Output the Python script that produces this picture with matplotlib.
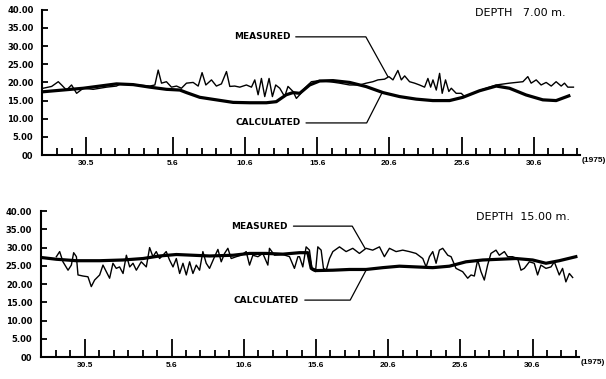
import matplotlib
matplotlib.use("Agg")
import matplotlib.pyplot as plt
import numpy as np

# days counted from 1 June 1975 (30.5 = -1, 5.6 = 5, ...)
tick_days = [-1, 5, 10, 15, 20, 25, 30]
tick_labels = ["30.5", "5.6", "10.6", "15.6", "20.6", "25.6", "30.6"]
ytick_vals = [0, 5, 10, 15, 20, 25, 30, 35, 40]
ytick_labels = ["00", "5.00", "10.00", "15.00", "20.00", "25.00", "30.00", "35.00", "40.00"]

# depth 7.00 m
meas7_day = [-3.97, -3.39, -2.93, -2.70, -2.36, -2.01, -1.66, -1.20, -0.51, 0.41, 1.10, 1.33,
             2.26, 3.41, 3.76, 3.99, 4.22, 4.56, 4.91, 5.26, 5.60, 5.95, 6.41, 6.76, 7.03,
             7.29, 7.68, 8.02, 8.37, 8.72, 8.95, 9.29, 9.64, 10.10, 10.45, 10.68, 10.91,
             11.14, 11.37, 11.67, 11.90, 12.13, 12.41, 12.75, 12.98, 13.33, 13.56,
             13.79, 14.14, 14.60, 15.17, 15.87, 16.56, 17.25, 17.94, 18.40, 18.86, 19.21,
             19.67, 19.97, 20.25, 20.59, 20.83, 21.06, 21.40, 21.75, 22.09, 22.44, 22.67,
             22.86, 23.02, 23.25, 23.48, 23.66, 23.89, 24.12, 24.29, 24.63, 24.98, 25.21,
             25.79, 26.48, 27.40, 28.32, 29.25, 29.59, 29.82, 30.17, 30.51, 30.86, 31.21,
             31.55, 31.90, 32.13, 32.36, 32.75]
meas7_val = [18.4, 18.9, 20.2, 19.3, 17.9, 19.3, 17.0, 18.4, 18.1, 18.7, 19.0, 19.5,
             19.4, 19.0, 19.3, 23.4, 19.8, 20.2, 18.7, 19.0, 18.4, 19.8, 20.0, 19.0, 22.7,
             19.3, 20.7, 19.0, 19.6, 23.0, 18.9, 19.0, 18.7, 19.3, 18.7, 20.7, 16.6,
             21.1, 16.1, 21.1, 16.1, 19.3, 18.4, 16.1, 18.9, 17.5, 15.6,
             16.6, 18.4, 20.2, 20.5, 20.2, 19.8, 19.3, 19.3, 19.8, 20.2, 20.7,
             20.9, 21.6, 20.7, 23.3, 20.7, 21.8, 20.2, 19.8, 19.3, 18.7, 21.1,
             18.7, 20.7, 17.9, 22.5, 17.0, 20.7, 17.5, 18.4, 17.0, 17.0, 16.1,
             17.0, 18.1, 19.3, 19.8, 20.2, 21.6, 19.8, 20.7, 19.3, 20.0, 19.0,
             20.2, 19.0, 19.8, 18.7, 18.7]
calc7_day = [-4.07, -1.20, 1.10, 2.26, 3.41, 4.56, 5.49, 5.95, 6.87, 8.02, 9.18, 10.33,
             11.48, 12.17, 12.86, 13.33, 13.79, 14.48, 15.17, 16.10, 17.25, 18.40, 19.56,
             20.71, 21.86, 23.01, 24.17, 25.09, 26.24, 27.40, 28.32, 29.47, 30.63, 31.55, 32.43]
calc7_val = [17.4, 18.4, 19.6, 19.4, 18.7, 18.1, 17.9, 17.2, 15.9, 15.2, 14.5, 14.4,
             14.4, 14.7, 16.6, 17.2, 17.0, 19.3, 20.4, 20.5, 20.0, 18.85, 17.2,
             16.1, 15.4, 15.0, 15.0, 15.9, 17.7, 19.0, 18.4, 16.55, 15.2, 15.0, 16.3]

# depth 15.00 m
meas15_day = [-2.98, -2.75, -2.52, -2.17, -1.94, -1.78, -1.59, -1.48, -1.13, -0.79, -0.56,
              -0.33, 0.02, 0.25, 0.48, 0.71, 0.94, 1.17, 1.40, 1.64, 1.87, 2.10, 2.33, 2.56,
              2.90, 3.25, 3.48, 3.71, 3.94, 4.17, 4.40, 4.63, 4.86, 5.10, 5.33, 5.56, 5.79,
              6.02, 6.25, 6.48, 6.71, 6.94, 7.17, 7.40, 7.63, 7.98, 8.21, 8.44, 8.67, 8.90,
              9.13, 9.48, 9.82, 10.17, 10.40, 10.63, 10.98, 11.32, 11.67, 11.78, 12.13,
              12.71, 13.17, 13.51, 13.75,
              13.86, 14.09, 14.32, 14.55, 14.74, 14.97, 15.13, 15.36, 15.52, 15.71, 15.94,
              16.17, 16.63, 17.09, 17.55, 18.01, 18.47, 18.93, 19.40, 19.74, 20.09, 20.55,
              21.01, 21.47, 21.93, 22.40, 22.63, 22.86, 23.09, 23.32, 23.55, 23.78, 24.13,
              24.36, 24.70, 25.16, 25.51, 25.74, 25.97, 26.20, 26.43, 26.66, 26.89, 27.12,
              27.47, 27.70, 28.05, 28.28, 28.62, 28.97, 29.20, 29.43, 29.78, 30.12, 30.35,
              30.58, 30.93, 31.28, 31.51, 31.85, 32.08, 32.31, 32.55, 32.78]
meas15_val = [27.5, 28.9, 26.1, 23.8, 25.2, 28.6, 27.5, 22.5, 22.2, 22.0, 19.3,
              21.1, 22.5, 25.2, 23.4, 21.6, 25.7, 24.3, 24.7, 22.9, 27.9, 24.7, 25.7, 23.8,
              26.1, 24.7, 30.0, 27.5, 28.9, 27.0, 27.9, 28.9, 26.6, 24.7, 27.0, 22.9, 25.7,
              22.5, 26.1, 22.9, 25.2, 23.8, 28.9, 25.7, 24.3, 27.5, 29.5, 26.1, 28.4, 29.8,
              27.0, 27.5, 27.9, 28.9, 25.2, 27.9, 27.5, 28.4, 25.2, 29.8, 27.9,
              28.1, 27.5, 24.3, 27.5,
              27.5, 24.7, 30.2, 29.3, 23.8, 23.4, 30.2, 29.3, 24.3, 23.8, 27.0,
              28.9, 30.2, 28.9, 29.8, 28.4, 29.8, 29.3, 30.2, 27.5, 29.8, 28.9,
              29.3, 28.9, 28.4, 27.0, 24.7, 27.5, 28.9, 25.7, 29.3, 29.8, 27.9,
              27.5, 24.3, 23.4, 21.6, 22.5, 22.2, 26.6, 23.4, 21.1, 25.2, 28.4,
              29.3, 27.9, 28.9, 27.5, 27.5, 27.0, 23.8, 24.3, 26.1, 25.7, 22.5,
              25.2, 24.3, 24.7, 26.1, 22.5, 24.3, 20.6, 22.9, 21.8]
calc15_day = [-4.07, -2.98, -1.59, 0.02, 1.64, 3.02, 4.17, 5.33, 6.48, 7.63, 9.25, 10.40,
              11.55, 12.71, 13.86, 14.44, 14.67, 15.01, 16.17, 17.32, 18.47, 19.63, 20.78,
              21.93, 23.09, 24.24, 25.39, 26.55, 27.70, 28.85, 30.01, 30.93, 31.85, 33.0]
calc15_val = [27.3, 26.8, 26.4, 26.4, 26.6, 27.0, 27.7, 28.1, 27.9, 27.7, 27.9, 28.4,
              28.4, 28.2, 28.6, 28.6, 24.3, 23.7, 23.8, 24.0, 24.0, 24.5, 24.9,
              24.7, 24.5, 24.9, 26.1, 26.6, 26.8, 27.0, 26.6, 25.7, 26.4, 27.5]

label_font = dict(family="DejaVu Sans", weight="bold", size=6.5)

fig = plt.figure(figsize=(6.06, 3.79), dpi=100)
ax1 = fig.add_axes([0.069, 0.591, 0.888, 0.383])
ax2 = fig.add_axes([0.067, 0.058, 0.888, 0.385])


def style_axis(ax):
    ax.set_xlim(-4.07, 33.2)
    ax.set_ylim(0, 40)
    for s in ["top", "right"]:
        ax.spines[s].set_visible(False)
    for s in ["left", "bottom"]:
        ax.spines[s].set_linewidth(1.5)
    ax.set_xticks(tick_days)
    ax.set_xticklabels(tick_labels, fontfamily="Liberation Sans", fontweight="bold", fontsize=6)
    ax.set_xticks(np.arange(-3, 34), minor=True)
    ax.tick_params(axis="x", which="major", direction="in", length=13, width=1.3, pad=3.5)
    ax.tick_params(axis="x", which="minor", direction="in", length=5, width=1.3)
    ax.set_yticks(ytick_vals)
    ax.set_yticklabels(ytick_labels, fontfamily="DejaVu Sans", fontweight="bold", fontsize=6)
    ax.tick_params(axis="y", direction="in", length=4.5, width=1.3, pad=6)
    ax.text(1.004, -0.04, "(1975)", transform=ax.transAxes, ha="left", va="center",
            fontfamily="Liberation Sans", fontweight="bold", fontsize=6, clip_on=False)


style_axis(ax1)
ax1.plot(meas7_day, meas7_val, color="black", lw=1.0)
ax1.plot(calc7_day, calc7_val, color="black", lw=2.3)
ax1.text(0.805, 0.979, "DEPTH   7.00 m.", transform=ax1.transAxes, ha="left", va="center",
         fontsize=8, fontfamily="DejaVu Sans")
ax1.annotate("MEASURED", xy=(19.9, 21.6), xytext=(0.409, 0.814), textcoords="axes fraction",
             ha="center", va="center", **label_font,
             arrowprops=dict(arrowstyle="-", lw=0.9, shrinkA=2, shrinkB=0,
                             connectionstyle="angle,angleA=0,angleB=-61,rad=0"))
ax1.annotate("CALCULATED", xy=(19.5, 17.2), xytext=(0.42, 0.221), textcoords="axes fraction",
             ha="center", va="center", **label_font,
             arrowprops=dict(arrowstyle="-", lw=0.9, shrinkA=2, shrinkB=0,
                             connectionstyle="angle,angleA=0,angleB=63,rad=0"))

style_axis(ax2)
ax2.plot(meas15_day, meas15_val, color="black", lw=1.0)
ax2.plot(calc15_day, calc15_val, color="black", lw=2.3)
ax2.text(0.809, 0.959, "DEPTH  15.00 m.", transform=ax2.transAxes, ha="left", va="center",
         fontsize=8, fontfamily="DejaVu Sans")
ax2.annotate("MEASURED", xy=(18.4, 29.8), xytext=(0.407, 0.897), textcoords="axes fraction",
             ha="center", va="center", **label_font,
             arrowprops=dict(arrowstyle="-", lw=0.9, shrinkA=2, shrinkB=0,
                             connectionstyle="angle,angleA=0,angleB=-60,rad=0"))
ax2.annotate("CALCULATED", xy=(18.5, 24.0), xytext=(0.42, 0.39), textcoords="axes fraction",
             ha="center", va="center", **label_font,
             arrowprops=dict(arrowstyle="-", lw=0.9, shrinkA=2, shrinkB=0,
                             connectionstyle="angle,angleA=0,angleB=62,rad=0"))

fig.savefig("out.png", dpi=100)
